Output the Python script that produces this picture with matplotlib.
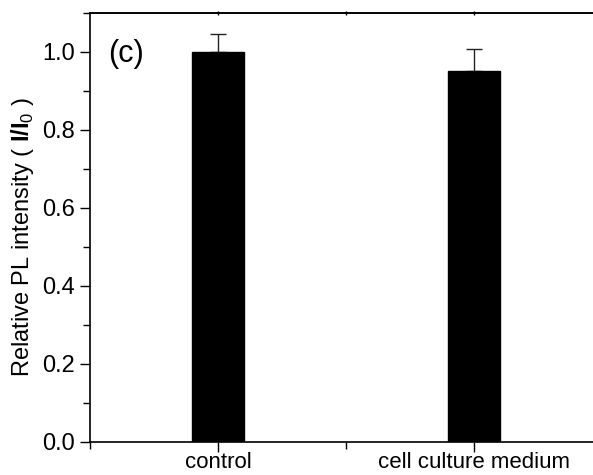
import matplotlib
matplotlib.use('Agg')
import matplotlib.pyplot as plt
from matplotlib.ticker import MultipleLocator, FormatStrFormatter
import numpy as np

plt.rcParams['font.family'] = ['Liberation Sans', 'DejaVu Sans']
plt.rcParams['mathtext.fontset'] = 'custom'
plt.rcParams['mathtext.rm'] = 'Liberation Sans'
plt.rcParams['mathtext.bf'] = 'Liberation Sans:bold'

categories = ['control', 'cell culture medium']
values = [1.0, 0.951]
errors_up = [0.046, 0.057]

fig = plt.figure(figsize=(5.93, 4.75), dpi=100, facecolor='white')
ax = fig.add_axes([0.1518, 0.0695, 0.8634, 0.9032])

x = np.arange(1, len(categories) + 1)
ax.bar(x, values, width=0.2, color='black', edgecolor='black', zorder=2)
ax.errorbar(x, values, yerr=[np.zeros(len(values)), errors_up], fmt='none',
            ecolor='#222222', elinewidth=1, capsize=6, capthick=1, zorder=1)

ax.set_xlim(0.5, 2.5)
ax.set_ylim(0, 1.1)
ax.set_xticks(x)
ax.set_xticklabels(categories)
ax.xaxis.set_minor_locator(MultipleLocator(0.5))
ax.yaxis.set_major_locator(MultipleLocator(0.2))
ax.yaxis.set_minor_locator(MultipleLocator(0.1))
ax.yaxis.set_major_formatter(FormatStrFormatter('%.1f'))

ax.tick_params(axis='both', which='both', direction='out', width=1, top=False)
ax.tick_params(axis='y', labelsize=17)
ax.tick_params(axis='x', labelsize=16)
ax.tick_params(axis='both', which='major', length=7)
ax.tick_params(axis='both', which='minor', length=5)
ax.tick_params(axis='y', which='major', pad=4)
ax.tick_params(axis='x', which='major', pad=0)
for s in ax.spines.values():
    s.set_linewidth(1.2)

# tiny marks on the top spine
top = ax.secondary_xaxis('top')
top.set_xticks([1, 1.5, 2])
top.tick_params(direction='inout', length=3, width=1, labeltop=False)
top.spines['top'].set_linewidth(1.2)

ax.set_ylabel(r'Relative PL intensity ( $\mathbf{I/I}_0$ )', fontsize=17)
ax.yaxis.set_label_coords(-0.105, 0.478)
ax.text(0.57, 0.995, '(c)', fontsize=22, ha='left', va='center')

fig.savefig('out.png', dpi=100)
